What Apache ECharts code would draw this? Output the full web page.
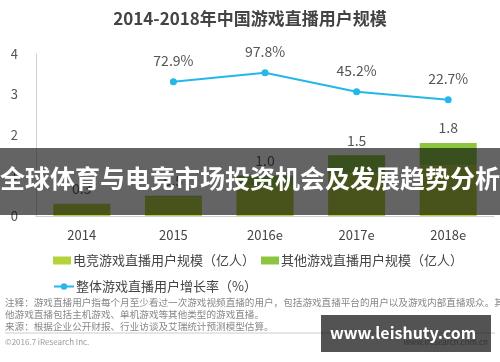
<!DOCTYPE html>
<html><head><meta charset="utf-8">
<script src="https://cdn.jsdelivr.net/npm/echarts@6/dist/echarts.min.js"></script>
<style>html,body{margin:0;padding:0;background:#fff}#c{width:500px;height:362px}</style>
</head><body><div id="c"></div>
<script>
const categories = ['2014', '2015', '2016e', '2017e', '2018e'];
const esportsUsers = [0.3, 0.45, 0.75, 1.05, 1.25];
const otherUsers = [0.0, 0.05, 0.25, 0.45, 0.55];
const growthRate = [null, 72.9, 97.8, 45.2, 22.7];
const yTicks = [0, 1, 2, 3, 4];
const seriesNames = ['电竞游戏直播用户规模（亿人）', '其他游戏直播用户规模（亿人）', '整体游戏直播用户增长率（%）'];

const FONT = '"Noto Sans CJK SC", "Noto Sans", sans-serif';
const chart = echarts.init(document.getElementById('c'), null, {renderer: 'canvas'});
const totals = esportsUsers.map((v, i) => v + otherUsers[i]);

chart.setOption({
  animation: false,
  textStyle: {fontFamily: FONT},
  title: {
    text: '2014-2018年中国游戏直播用户规模',
    left: 'center', top: 5,
    textStyle: {fontSize: 17, fontWeight: 'bold', color: '#444', fontFamily: FONT}
  },
  grid: {left: 36, right: 6, top: 54, bottom: 146},
  legend: [
    {
      data: [seriesNames[0], seriesNames[1]],
      left: 48, top: 249, itemWidth: 18, itemHeight: 8, itemGap: 6,
      icon: 'rect',
      textStyle: {fontSize: 13, color: '#444', padding: [0, 0, 0, -3]}
    },
    {
      data: [seriesNames[2]],
      left: 48, top: 275, itemWidth: 20, itemHeight: 8,
      textStyle: {fontSize: 13, color: '#444', padding: [0, 0, 0, -3]}
    }
  ],
  xAxis: {
    type: 'category', data: categories,
    axisLine: {lineStyle: {color: '#d0d0d0', width: 1}},
    axisTick: {show: false},
    axisLabel: {fontSize: 13, color: '#444', margin: 13}
  },
  yAxis: [
    {
      type: 'value', min: yTicks[0], max: yTicks[yTicks.length - 1], interval: 1,
      axisLine: {show: true, lineStyle: {color: '#d0d0d0'}},
      axisTick: {show: false},
      splitLine: {show: false},
      axisLabel: {fontSize: 13, color: '#555', margin: 18}
    },
    {
      type: 'value', min: -300, max: 150, show: false, splitLine: {show: false}
    }
  ],
  series: [
    {
      name: seriesNames[0], type: 'bar', stack: 'total', data: esportsUsers,
      barWidth: 57, itemStyle: {color: '#b4d23a'}
    },
    {
      name: seriesNames[1], type: 'bar', stack: 'total', data: otherUsers,
      barWidth: 57, itemStyle: {color: '#8cc63f'},
      label: {
        show: true, position: 'top', distance: 8, fontSize: 14, color: '#555',
        formatter: p => totals[p.dataIndex].toFixed(1)
      }
    },
    {
      name: seriesNames[2], type: 'line', yAxisIndex: 1, data: growthRate,
      symbol: 'circle', symbolSize: 7,
      lineStyle: {color: '#25b7e8', width: 2},
      itemStyle: {color: '#25b7e8'},
      label: {
        show: true, position: 'top', distance: 11, fontSize: 14, color: '#555',
        formatter: p => p.value.toFixed(1) + '%'
      }
    }
  ],
  graphic: [
    {type: 'text', left: 5, top: 298, z: 10,
      style: {text: '注释：游戏直播用户指每个月至少看过一次游戏视频直播的用户，包括游戏直播平台的用户以及游戏内部直播观众。其', font: '9.6px ' + FONT, fill: '#888'}},
    {type: 'text', left: 5, top: 310, z: 10,
      style: {text: '他游戏直播包括主机游戏、单机游戏等其他类型的游戏直播。', font: '9.6px ' + FONT, fill: '#888'}},
    {type: 'text', left: 5, top: 322, z: 10,
      style: {text: '来源：根据企业公开财报、行业访谈及艾瑞统计预测模型估算。', font: '9.6px ' + FONT, fill: '#888'}},
    {type: 'line', z: 10, shape: {x1: 5, y1: 333, x2: 495, y2: 333}, style: {stroke: '#ccc', lineWidth: 1}},
    {type: 'text', left: 5, top: 338, z: 10,
      style: {text: '©2016.7 iResearch Inc.', font: '8px ' + FONT, fill: '#999'}},
    {type: 'text', right: 12, top: 338, z: 10,
      style: {text: 'www.iresearch.com.cn', font: '8px ' + FONT, fill: '#999'}},
    {type: 'rect', z: 100, shape: {x: 0, y: 148, width: 500, height: 67}, style: {fill: 'rgba(10,10,10,0.63)'}},
    {type: 'text', z: 101, left: 'center', top: 166,
      style: {text: '全球体育与电竞市场投资机会及发展趋势分析', font: 'bold 25px ' + FONT, fill: '#fff'}},
    {type: 'rect', z: 100, shape: {x: 321, y: 315, width: 170, height: 37}, style: {fill: 'rgba(10,10,10,0.7)'}},
    {type: 'text', z: 101, left: 330, top: 325,
      style: {text: 'www.leishuty.com', font: 'bold 16px ' + FONT, fill: '#fff'}}
  ]
});
</script>
</body></html>
